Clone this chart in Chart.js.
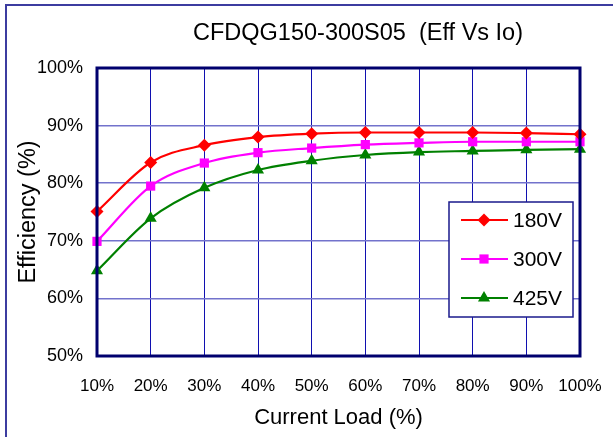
<!DOCTYPE html>
<html>
<head>
<meta charset="utf-8">
<script src="https://cdn.jsdelivr.net/npm/chart.js@4"></script>
<style>
  html, body { margin: 0; padding: 0; background: #fff; }
  #wrap { width: 613px; height: 437px; }
</style>
</head>
<body>
<div id="wrap"><canvas id="effChart" width="613" height="437"></canvas></div>
<script>
const loads = ["10%", "20%", "30%", "40%", "50%", "60%", "70%", "80%", "90%", "100%"];
const eff180 = [75.1, 83.6, 86.6, 88.0, 88.6, 88.8, 88.8, 88.8, 88.7, 88.5];
const eff300 = [69.9, 79.5, 83.5, 85.3, 86.1, 86.7, 87.0, 87.2, 87.2, 87.2];
const eff425 = [64.8, 73.9, 79.2, 82.3, 83.9, 84.9, 85.4, 85.6, 85.8, 85.9];
const chartTitle = "CFDQG150-300S05  (Eff Vs Io)";

const FONT = "'Liberation Sans', Arial, sans-serif";

// title, frame round the plot, outer border and the legend box inside the plot
const framePlugin = {
    id: "frame",
    afterDraw(chart) {
        const ctx = chart.ctx;
        const a = chart.chartArea;
        ctx.save();
        ctx.strokeStyle = "#3c3ca0";
        ctx.lineWidth = 2;
        ctx.strokeRect(6, 5, 640, 480);

        ctx.fillStyle = "#000";
        ctx.font = "23.5px " + FONT;
        ctx.textAlign = "center";
        ctx.textBaseline = "middle";
        ctx.fillText(chartTitle, 358, 34);
        ctx.textAlign = "left";

        ctx.strokeStyle = "#00006e";
        ctx.lineWidth = 3;
        ctx.strokeRect(a.left, a.top, a.right - a.left, a.bottom - a.top);

        // legend
        const bx = 449, by = 202, bw = 124, bh = 115;
        ctx.fillStyle = "#fff";
        ctx.fillRect(bx, by, bw, bh);
        ctx.strokeStyle = "#1a1a8c";
        ctx.lineWidth = 1.5;
        ctx.strokeRect(bx, by, bw, bh);
        ctx.font = "21px " + FONT;
        chart.data.datasets.forEach((ds, i) => {
            const y = by + 18 + i * 39;
            ctx.strokeStyle = ds.borderColor;
            ctx.lineWidth = 2;
            ctx.beginPath();
            ctx.moveTo(bx + 12, y);
            ctx.lineTo(bx + 59, y);
            ctx.stroke();
            ctx.fillStyle = ds.backgroundColor;
            Chart.helpers.drawPoint(ctx, {
                pointStyle: ds.pointStyle, radius: ds.pointRadius, rotation: 0, borderWidth: 0
            }, bx + 35, y);
            ctx.fillStyle = "#000";
            ctx.fillText(ds.label, bx + 64, y + 1);
        });
        ctx.restore();
    }
};

function series(label, data, color, style, radius) {
    return {
        label, data,
        borderColor: color, backgroundColor: color,
        borderWidth: 2.2,
        pointStyle: style, pointRadius: radius, pointHoverRadius: radius,
        pointBorderWidth: 0,
        tension: 0.4, cubicInterpolationMode: "monotone"
    };
}

new Chart(document.getElementById("effChart"), {
    type: "line",
    data: {
        labels: loads,
        datasets: [
            series("180V", eff180, "#ff0000", "rectRot", 6.5),
            series("300V", eff300, "#ff00ff", "rect", 6.5),
            series("425V", eff425, "#008000", "triangle", 7)
        ]
    },
    options: {
        responsive: false,
        animation: false,
        clip: false,
        layout: { padding: { left: 0, right: 33, top: 68, bottom: 0 } },
        plugins: {
            legend: { display: false },
            tooltip: { enabled: false },
            title: { display: false }
        },
        scales: {
            x: {
                offset: false,
                grid: { color: "#1010b0", lineWidth: 1, drawTicks: false, offset: false },
                border: { display: false },
                ticks: { color: "#000", font: { family: FONT, size: 17 }, padding: 20, maxRotation: 0 },
                title: {
                    display: true, text: "Current Load (%)", color: "#000",
                    font: { family: FONT, size: 22 }, padding: { top: 4, bottom: 6 }
                },
                afterFit(scale) {
                    scale.height = 81;
                    scale.paddingLeft = 0;
                    scale.paddingRight = 0;
                }
            },
            y: {
                min: 50, max: 100,
                grid: { color: "#7272cc", lineWidth: 1.6, drawTicks: false },
                border: { display: false },
                ticks: {
                    stepSize: 10, color: "#000", padding: 14,
                    font: { family: FONT, size: 18 },
                    callback: v => v + "%"
                },
                title: {
                    display: true, text: "Efficiency (%)", color: "#000",
                    font: { family: FONT, size: 23.5 }, padding: { top: 14, bottom: 4 }
                },
                afterFit(scale) { scale.width = 97; }
            }
        }
    },
    plugins: [framePlugin]
});
</script>
</body>
</html>
